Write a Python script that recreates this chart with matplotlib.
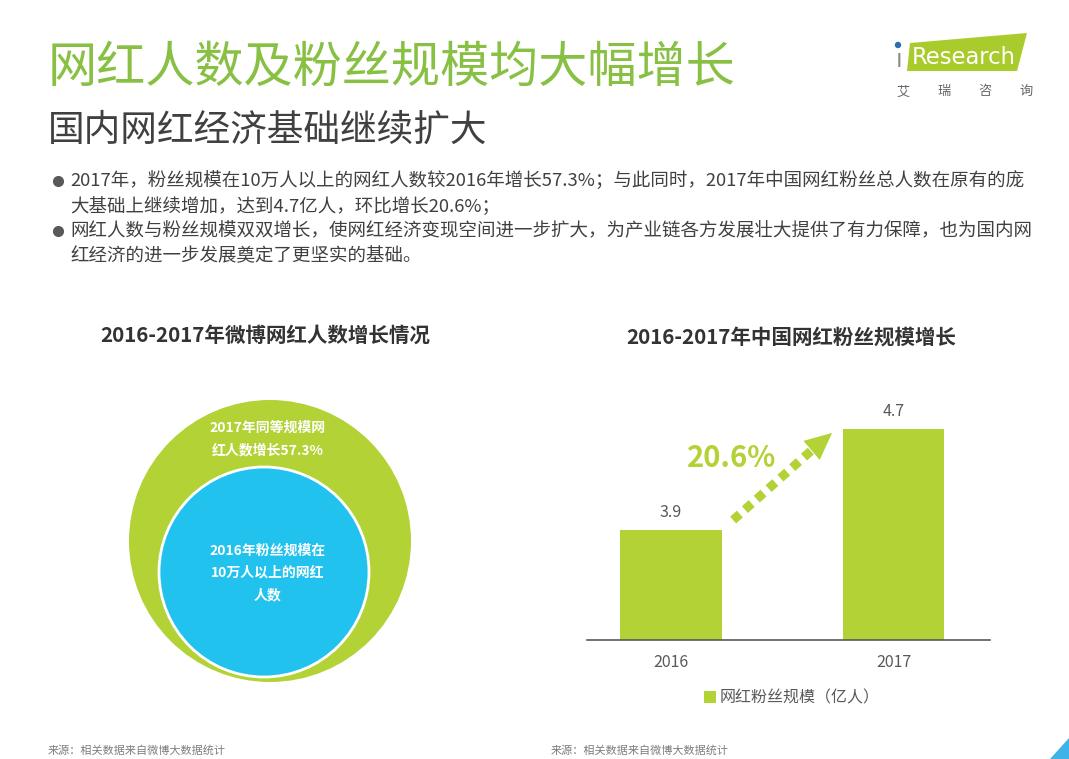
import numpy as np
import matplotlib
matplotlib.use("Agg")
import matplotlib.pyplot as plt
from matplotlib.patches import Circle, Polygon

plt.rcParams['font.family'] = ['Noto Sans CJK SC', 'DejaVu Sans']

# ---- data ----
years = ['2016', '2017']
fans = [3.9, 4.7]          # 网红粉丝规模（亿人）
fan_growth = '20.6%'
title = '网红人数及粉丝规模均大幅增长'
subtitle = '国内网红经济基础继续扩大'
bullets = [
    ['2017年，粉丝规模在10万人以上的网红人数较2016年增长57.3%；与此同时，2017年中国网红粉丝总人数在原有的庞',
     '大基础上继续增加，达到4.7亿人，环比增长20.6%；'],
    ['网红人数与粉丝规模双双增长，使网红经济变现空间进一步扩大，为产业链各方发展壮大提供了有力保障，也为国内网',
     '红经济的进一步发展奠定了更坚实的基础。'],
]
left_title = '2016-2017年微博网红人数增长情况'
right_title = '2016-2017年中国网红粉丝规模增长'
outer_text = '2017年同等规模网\n红人数增长57.3%'
inner_text = '2016年粉丝规模在\n10万人以上的网红\n人数'
legend_label = '网红粉丝规模（亿人）'
source = '来源：相关数据来自微博大数据统计'

GREEN_T = '#88c043'
GREEN = '#b2d235'
BLUE = '#22c2ef'
DARK = '#404040'
GRAY = '#595959'

W, H = 1069, 759
fig = plt.figure(figsize=(W / 100, H / 100), dpi=100)

# overlay axes in pixel units
bg = fig.add_axes([0, 0, 1, 1])
bg.set_xlim(0, W)
bg.set_ylim(H, 0)
bg.axis('off')

# headings
bg.text(48, 68, title, fontsize=35.4, color=GREEN_T, va='center', ha='left')
bg.text(48, 130, subtitle, fontsize=26.4, color=DARK, va='center', ha='left')

y = 181
for b in bullets:
    bg.plot(58, y, 'o', color=GRAY, ms=7)
    for line in b:
        bg.text(70, y, line, fontsize=13.3, color=DARK, va='center', ha='left')
        y += 25

# logo
bg.add_patch(Polygon([[910, 43], [1027, 33], [1017, 71], [907, 71]], closed=True,
                     color='#a9cc2c', lw=0))
bg.text(899, 60, 'ı', fontsize=17, color='#8a8a8a', va='center', ha='center',
        family='DejaVu Sans')
bg.add_patch(Circle((898, 45), 3.2, color='#2e6db4', lw=0))
bg.text(964, 58, 'Research', fontsize=16.3, color='white', va='center', ha='center',
        family='DejaVu Sans')
for i, ch in enumerate('艾瑞咨询'):
    bg.text(903 + i * 41, 92, ch, fontsize=9.5, color='#666666', va='center', ha='center')

# corner triangle
bg.add_patch(Polygon([[1050, 759], [1069, 759], [1069, 738]], closed=True, color='#3eb3e8', lw=0))

# chart titles
bg.text(265, 335, left_title, fontsize=14.8, fontweight='bold', color='#333333',
        va='center', ha='center')
bg.text(791, 337, right_title, fontsize=14.8, fontweight='bold', color='#333333',
        va='center', ha='center')

# circles
bg.add_patch(Circle((270, 541), 141, color=GREEN, lw=0))
bg.add_patch(Circle((264, 572), 105, facecolor=BLUE, edgecolor='white', lw=2))
bg.text(268, 439, outer_text, fontsize=10, fontweight='bold', color='white',
        va='center', ha='center', linespacing=1.75)
bg.text(268, 573, inner_text, fontsize=10, fontweight='bold', color='white',
        va='center', ha='center', linespacing=1.75)

# sources
bg.text(48, 750, source, fontsize=8, color='#7f7f7f', va='center', ha='left')
bg.text(551, 750, source, fontsize=8, color='#7f7f7f', va='center', ha='left')

# ---- bar chart ----
ax_l, ax_r, ax_b, ax_t = 587, 990, 640, 380
ax = fig.add_axes([ax_l / W, 1 - ax_b / H, (ax_r - ax_l) / W, (ax_b - ax_t) / H])
x = np.arange(len(years))
bars = ax.bar(x, fans, width=0.458, color=GREEN, label=legend_label)
ax.set_xlim(-0.378, 1.434)
ax.set_ylim(3.029, 5.088)
ax.set_xticks(x, years)
ax.tick_params(axis='x', length=0, pad=10, labelsize=11.5, labelcolor=GRAY)
ax.set_yticks([])
for s in ['top', 'left', 'right']:
    ax.spines[s].set_visible(False)
ax.spines['bottom'].set_color(GRAY)
ax.spines['bottom'].set_linewidth(1.2)
ax.patch.set_alpha(0)

for xi, v in zip(x, fans):
    ax.text(xi, v + 0.135, f'{v}', ha='center', va='center', fontsize=11.5, color=GRAY)

# growth arrow
x0, y0 = 0.279, fans[0] + 0.079
xb, yb = 0.629, fans[1] - 0.174
x1, y1 = 0.724, fans[1] - 0.031
ax.plot([x0, xb], [y0, yb], color=GREEN, lw=6.5, linestyle=(0, (1, 0.75)),
        dash_capstyle='butt')
ax.annotate('', xy=(x1, y1), xytext=(xb, yb),
            arrowprops=dict(arrowstyle='-|>,head_length=0.97,head_width=0.45',
                            mutation_scale=20, color=GREEN, lw=0,
                            shrinkA=0, shrinkB=0))
ax.text(0.27, 4.47, fan_growth, fontsize=21, fontweight='bold', color=GREEN,
        ha='center', va='center')

leg = fig.legend(handles=[bars], labels=[legend_label], loc='center',
                 bbox_to_anchor=(792 / W, 1 - 698 / H), frameon=False,
                 handlelength=0.75, handleheight=0.75, handletextpad=0.25,
                 fontsize=11.5)
for t in leg.get_texts():
    t.set_color(GRAY)

fig.savefig('out.png', dpi=100)
